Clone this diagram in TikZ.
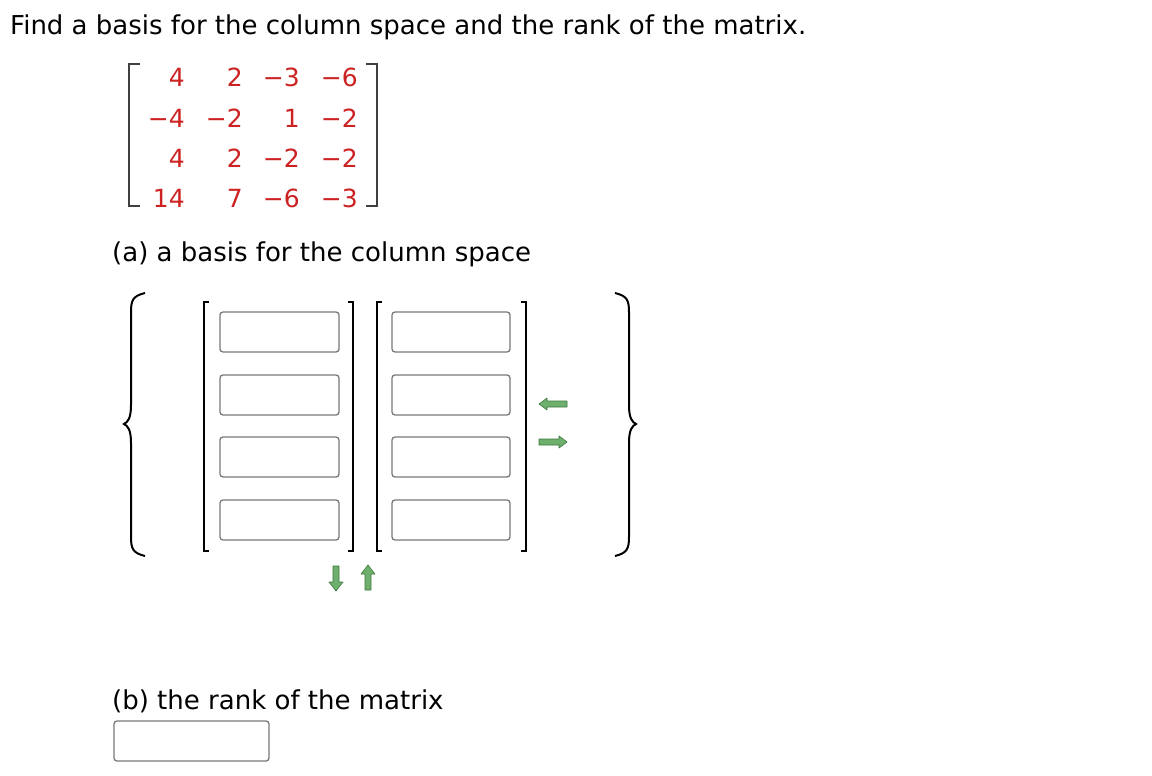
\documentclass[tikz,border=0pt]{standalone}
\usepackage{fontspec}
\setmainfont{DejaVu Sans}
\usetikzlibrary{arrows.meta}
\definecolor{numred}{RGB}{204,34,34}
\definecolor{boxgray}{RGB}{120,120,120}
\definecolor{arrgreen}{RGB}{110,175,110}
\definecolor{arrdark}{RGB}{60,120,60}
\begin{document}
\begin{tikzpicture}[x=1pt,y=-1pt,
  txt/.style={anchor=base west,inner sep=0pt,font=\fontsize{26}{30}\selectfont},
  num/.style={anchor=base east,inner sep=0pt,text=numred,font=\fontsize{25}{30}\selectfont},
  inbox/.style={draw=boxgray,line width=1.3pt,rounded corners=3pt},
  brk/.style={draw=black,line width=2pt},
  mbrk/.style={draw=black!75,line width=2pt},
  garrow/.style={draw=arrdark,fill=arrgreen,line width=0.6pt,line join=round}]
\useasboundingbox (0,0) rectangle (1152,776);
\node[txt] (title) at (10,35) {Find a basis for the column space and the rank of the matrix.};
% matrix
\draw[mbrk] (140,64) -- (129,64) -- (129,206) -- (140,206);
\draw[mbrk] (366,64) -- (377,64) -- (377,206) -- (366,206);
\node[num] (m11) at (185,86) {4};\node[num] (m12) at (243,86) {2};\node[num] (m13) at (300,86) {−3};\node[num] (m14) at (358,86) {−6};
\node[num] (m21) at (185,128) {−4};\node[num] (m22) at (243,128) {−2};\node[num] (m23) at (300,128) {1};\node[num] (m24) at (358,128) {−2};
\node[num] (m31) at (185,167) {4};\node[num] (m32) at (243,167) {2};\node[num] (m33) at (300,167) {−2};\node[num] (m34) at (358,167) {−2};
\node[num] (m41) at (185,207) {14};\node[num] (m42) at (243,207) {7};\node[num] (m43) at (300,207) {−6};\node[num] (m44) at (358,207) {−3};
\node[txt] (parta) at (112,261) {(a) a basis for the column space};
% braces
\draw[line width=2pt] (145,293) .. controls (133,296) and (131,300) .. (131,312) -- (131,405) .. controls (131,418) and (128,422) .. (124,424) .. controls (128,426) and (131,430) .. (131,443) -- (131,537) .. controls (131,549) and (133,553) .. (145,556);
\draw[line width=2pt] (615,293) .. controls (627,296) and (629,300) .. (629,312) -- (629,405) .. controls (629,418) and (632,422) .. (636,424) .. controls (632,426) and (629,430) .. (629,443) -- (629,537) .. controls (629,549) and (627,553) .. (615,556);
% vector brackets
\draw[brk] (209,302) -- (204,302) -- (204,551) -- (209,551);
\draw[brk] (348,302) -- (353,302) -- (353,551) -- (348,551);
\draw[brk] (382,302) -- (377,302) -- (377,551) -- (382,551);
\draw[brk] (521,302) -- (526,302) -- (526,551) -- (521,551);
\foreach \y [count=\i] in {312,375,437,500}{
  \draw[inbox] (220,\y) rectangle (339,\y+40);
  \draw[inbox] (392,\y) rectangle (510,\y+40);
}
% arrows
\draw[garrow] (539,404) -- (547,398) -- (547,401) -- (567,401) -- (567,407) -- (547,407) -- (547,410) -- cycle;
\draw[garrow] (567,442) -- (559,436) -- (559,439) -- (539,439) -- (539,445) -- (559,445) -- (559,448) -- cycle;
\draw[garrow] (336,591) -- (329,582) -- (333,582) -- (333,566) -- (339,566) -- (339,582) -- (343,582) -- cycle;
\draw[garrow] (368,565) -- (361,574) -- (365,574) -- (365,590) -- (371,590) -- (371,574) -- (375,574) -- cycle;
\node[txt] (partb) at (112,709) {(b) the rank of the matrix};
\draw[inbox] (114,721) rectangle (269,761);
\end{tikzpicture}
\end{document}
